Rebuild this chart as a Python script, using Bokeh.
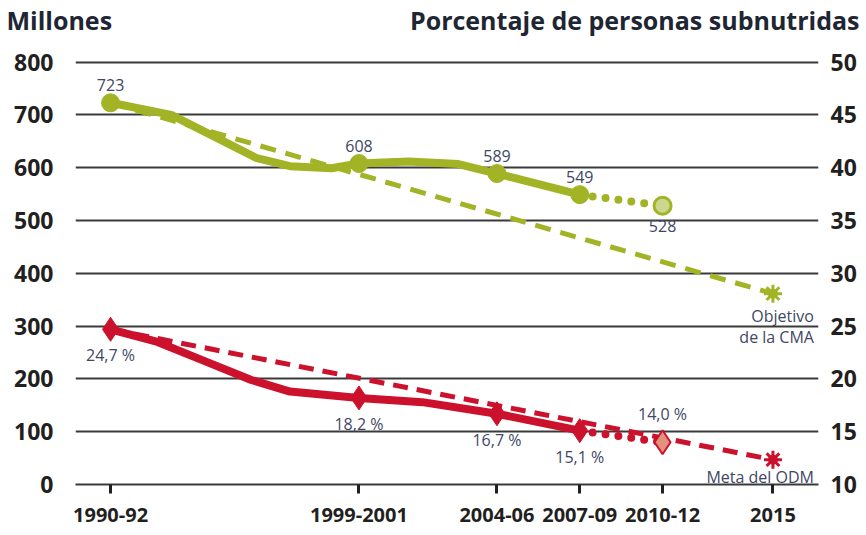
from bokeh.plotting import figure
from bokeh.models import Range1d, FixedTicker, LinearAxis, Label
from bokeh.layouts import column
from bokeh.embed import file_html
from bokeh.resources import INLINE
from bokeh.core.properties import value

# ---------------- data ----------------
period_years = [1991, 2000, 2005, 2008, 2011, 2015]
period_labels = ["1990-92", "1999-2001", "2004-06", "2007-09", "2010-12", "2015"]

# Millions of undernourished people (left axis)
mill_years = [1991, 2000, 2005, 2008]
mill_values = [723, 608, 589, 549]
mill_labels = ["723", "608", "589", "549"]
mill_curve_years = [1991, 1993.2, 1995.1, 1996.3, 1997.5, 1999.0, 2000, 2001.8, 2003.6, 2005, 2008]
mill_curve_values = [723, 700, 650, 618, 603, 599, 608, 612, 607, 589, 549]
mill_proj_years = [2008, 2011]
mill_proj_values = [549, 528]
mill_proj_labels = ["528"]
wfs_years = [1991, 2015]
wfs_values = [723, 361.5]
wfs_label = ["Objetivo\nde la CMA"]

# Percentage of undernourished people (right axis)
pct_years = [1991, 2000, 2005, 2008]
pct_values = [24.7, 18.2, 16.7, 15.1]
pct_labels = ["24,7 %", "18,2 %", "16,7 %", "15,1 %"]
pct_curve_years = [1991, 1992.7, 1994.3, 1996.1, 1997.5, 2000, 2002.3, 2005, 2008]
pct_curve_values = [24.7, 23.5, 21.8, 19.9, 18.8, 18.2, 17.8, 16.7, 15.1]
pct_proj_years = [2008, 2011]
pct_proj_values = [15.1, 14.0]
pct_proj_labels = ["14,0 %"]
mdg_years = [1991, 2015]
mdg_values = [24.7, 12.35]
mdg_label = ["Meta del ODM"]

left_ticks = [0, 100, 200, 300, 400, 500, 600, 700, 800]
right_ticks = [10, 15, 20, 25, 30, 35, 40, 45, 50]

left_title = "Millones"
right_title = "Porcentaje de personas subnutridas"

# ---------------- styles ----------------
GREEN = "#a2b425"
GREEN_LIGHT = "#ccd78e"
RED = "#cc112d"
RED_LIGHT = "#e3917f"
LABEL_COL = "#3e4764"
AXIS_COL = "#231f20"
GRID_COL = "#3a3a3a"
FONT = "Open Sans"

W = 866
TITLE_H = 40
MAIN_H = 535 - TITLE_H

# ---------------- title strip ----------------
t = figure(width=W, height=TITLE_H, output_backend="svg", toolbar_location=None,
           x_range=Range1d(0, 1), y_range=Range1d(0, 1),
           x_axis_location=None, y_axis_location=None,
           min_border_left=0, min_border_right=0, min_border_top=0, min_border_bottom=0)
t.outline_line_color = None
t.grid.visible = False
t.background_fill_color = "white"
t.border_fill_color = "white"
title_kw = dict(x_units="screen", y_units="screen", text_font=FONT, text_font_style="bold",
                text_font_size="25px", text_color="#1f2633", text_baseline="alphabetic")
t.add_layout(Label(x=6, y=21, text=left_title, text_align="left", **title_kw))
t.add_layout(Label(x=859, y=21, text=right_title, text_align="right", **title_kw))

# ---------------- main chart ----------------
p = figure(width=W, height=MAIN_H, output_backend="svg", toolbar_location=None,
           x_range=Range1d(1989.73, 2016.65), y_range=Range1d(0, 805),
           min_border_left=75, min_border_right=48, min_border_top=59 - TITLE_H,
           min_border_bottom=51)
p.outline_line_color = None
p.background_fill_color = "white"
p.border_fill_color = "white"
p.extra_y_ranges = {"pct": Range1d(10, 10 + 805 / 20)}

# keep each plot's frame independent inside the column
if "frame_align" in p.properties():
    t.frame_align = False
    p.frame_align = False

# grid
p.xgrid.visible = False
p.ygrid.ticker = FixedTicker(ticks=left_ticks)
p.ygrid.grid_line_color = GRID_COL
p.ygrid.grid_line_width = 2

# x axis
xa = p.xaxis[0]
xa.ticker = FixedTicker(ticks=period_years)
xa.major_label_overrides = {y: l for y, l in zip(period_years, period_labels)}
xa.axis_line_color = GRID_COL
xa.axis_line_width = 2
xa.major_tick_in = 0
xa.major_tick_out = 9
xa.major_tick_line_width = 3
xa.major_tick_line_color = AXIS_COL
xa.minor_tick_line_color = None
xa.major_label_standoff = 14
xa.major_label_text_font = FONT
xa.major_label_text_font_style = "bold"
xa.major_label_text_font_size = "20px"
xa.major_label_text_color = AXIS_COL

# left y axis
ya = p.yaxis[0]
ya.ticker = FixedTicker(ticks=left_ticks)
ya.axis_line_color = None
ya.major_tick_line_color = None
ya.minor_tick_line_color = None
ya.major_tick_out = 0
ya.major_tick_in = 0
ya.major_label_standoff = 22
ya.major_label_text_font = FONT
ya.major_label_text_font_style = "bold"
ya.major_label_text_font_size = "23px"
ya.major_label_text_color = AXIS_COL

# right y axis
ra = LinearAxis(y_range_name="pct", ticker=FixedTicker(ticks=right_ticks))
ra.axis_line_color = None
ra.major_tick_line_color = None
ra.minor_tick_line_color = None
ra.major_tick_out = 0
ra.major_tick_in = 0
ra.major_label_standoff = 12
ra.major_label_text_font = FONT
ra.major_label_text_font_style = "bold"
ra.major_label_text_font_size = "23px"
ra.major_label_text_color = AXIS_COL
p.add_layout(ra, "right")

# ---------------- green series (millions) ----------------
p.line(wfs_years, wfs_values, line_color=GREEN, line_width=5, line_dash="16 10")
p.line(mill_curve_years, mill_curve_values, line_color=GREEN, line_width=8,
       line_join="round", line_cap="round")
p.line(mill_proj_years, mill_proj_values, line_color=GREEN, line_width=8,
       line_dash="0 13", line_cap="round")
p.scatter(mill_years, mill_values, marker="circle", size=18, fill_color=GREEN, line_color=GREEN)
p.scatter(mill_proj_years[1:], mill_proj_values[1:], marker="circle", size=17,
          fill_color=GREEN_LIGHT, line_color=GREEN, line_width=3)
p.scatter(wfs_years[1:], wfs_values[1:], marker="asterisk", size=18, line_color=GREEN, line_width=3)
p.scatter(wfs_years[1:], wfs_values[1:], marker="circle", size=9, fill_color=GREEN, line_color=GREEN)

# ---------------- red series (percent) ----------------
p.line(mdg_years, mdg_values, y_range_name="pct", line_color=RED, line_width=5, line_dash="15 9")
p.line(pct_curve_years, pct_curve_values, y_range_name="pct", line_color=RED, line_width=8,
       line_join="round", line_cap="round")
p.line(pct_proj_years, pct_proj_values, y_range_name="pct", line_color=RED, line_width=8,
       line_dash="0 13", line_cap="round")
p.scatter(pct_years, pct_values, y_range_name="pct", marker="diamond", size=24,
          fill_color=RED, line_color=RED)
p.scatter(pct_proj_years[1:], pct_proj_values[1:], y_range_name="pct", marker="diamond", size=24,
          fill_color=RED_LIGHT, line_color=RED, line_width=2)
p.scatter(mdg_years[1:], mdg_values[1:], y_range_name="pct", marker="asterisk", size=18,
          line_color=RED, line_width=3)
p.scatter(mdg_years[1:], mdg_values[1:], y_range_name="pct", marker="circle", size=9,
          fill_color=RED, line_color=RED)

# ---------------- data labels ----------------
lab_kw = dict(text_font=value(FONT), text_font_size="16px", text_color=LABEL_COL)
p.text(mill_years, mill_values, text=mill_labels, text_align="center", text_baseline="bottom",
       y_offset=-12, **lab_kw)
p.text(mill_proj_years[1:], mill_proj_values[1:], text=mill_proj_labels, text_align="center",
       text_baseline="top", y_offset=14, **lab_kw)
p.text(wfs_years[1:], wfs_values[1:], text=wfs_label, text_align="right", text_baseline="top",
       x_offset=41, y_offset=11, text_line_height=0.95, **lab_kw)
p.text(pct_years, pct_values, text=pct_labels, y_range_name="pct", text_align="center",
       text_baseline="top", y_offset=15, **lab_kw)
p.text(pct_proj_years[1:], pct_proj_values[1:], text=pct_proj_labels, y_range_name="pct",
       text_align="center", text_baseline="bottom", y_offset=-17, **lab_kw)
p.text(mdg_years[1:], mdg_values[1:], text=mdg_label, y_range_name="pct", text_align="right",
       text_baseline="top", x_offset=41, y_offset=6, **lab_kw)

layout = column(t, p, spacing=0)
open("out.html", "w").write(file_html(layout, INLINE))
